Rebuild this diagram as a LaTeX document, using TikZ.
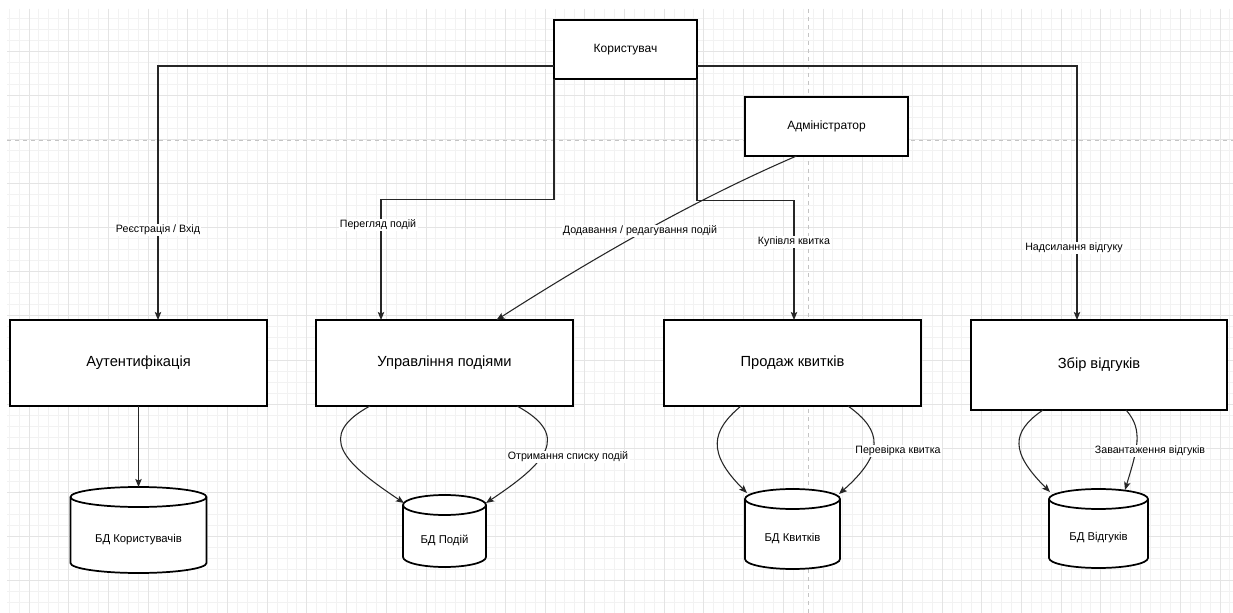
\documentclass[tikz,border=0pt]{standalone}
\usepackage{fontspec}
\setmainfont{Liberation Sans}
\usetikzlibrary{arrows.meta,calc}
\definecolor{gminor}{HTML}{F2F2F2}
\definecolor{gmajor}{HTML}{E4E4E4}
\definecolor{gpage}{HTML}{C4C4C4}
\def\dbr{7.5pt}
\newcommand\dbcyl[6]{%
  \node[dbnode, minimum width=#4*0.75pt, minimum height=#5*0.75pt] (#1) at (#2,#3) {};
  \path[dbline] ([yshift=-\dbr]#1.north west) -- ([yshift=\dbr]#1.south west)
     arc[start angle=180,end angle=360,x radius=#4*0.375pt,y radius=\dbr]
     -- ([yshift=-\dbr]#1.north east)
     arc[start angle=0,end angle=180,x radius=#4*0.375pt,y radius=\dbr] -- cycle;
  \draw[dbline, fill=none] ([yshift=-\dbr]#1.north west)
     arc[start angle=180,end angle=360,x radius=#4*0.375pt,y radius=\dbr];
  \node[dbtext] (#1-t) at ([yshift=-7pt]#1.center) {#6};
}
\tikzset{
  box/.style={draw=black, line width=1.5pt, fill=white, inner sep=0pt, outer sep=0pt,
    font=\fontsize{11}{13}\selectfont},
  smallbox/.style={box, font=\fontsize{9}{11}\selectfont},
  dbnode/.style={inner sep=0pt, outer sep=0pt},
  dbtext/.style={inner sep=0pt, font=\fontsize{8.5}{10}\selectfont},
  dbline/.style={draw=black, line width=1.3pt, fill=white},
  conn/.style={draw=black!85, line width=0.8pt, -{Stealth[length=6pt,width=4.8pt,inset=1.2pt]}},
  lbl/.style={fill=white, inner sep=1pt, font=\fontsize{8}{10}\selectfont},
  gridminor/.style={draw=gminor, line width=0.75pt},
  gridmajor/.style={draw=gmajor, line width=0.75pt},
  gridpage/.style={draw=gpage, line width=0.75pt, dash pattern=on 3pt off 3pt},
}
\begin{document}
\begin{tikzpicture}[x=0.75pt, y=-0.75pt]
\useasboundingbox (0,0) rectangle (1233,613);
\fill[white] (0,0) rectangle (1233,613);
% background grid
\begin{scope}
  \clip (7,9) rectangle (1233,613);
  \foreach \i in {0,...,124} {\draw[gridminor] ({9.15+9.925*\i},9) -- ({9.15+9.925*\i},613);}
  \foreach \i in {0,...,55} {\draw[gridminor] (7,{8+11*\i}) -- (1233,{8+11*\i});}
  \foreach \i in {0,...,30} {\draw[gridmajor] ({29+39.7*\i},9) -- ({29+39.7*\i},613);}
  \foreach \i in {0,...,14} {\draw[gridmajor] (7,{8+44*\i}) -- (1233,{8+44*\i});}
  \draw[gridpage] (7,141) -- (1233,141);
  \draw[gridpage] (808,9) -- (808,613);
\end{scope}

% helper coordinates for arrow columns
\coordinate (c1) at (158,0);
\coordinate (c2) at (381,0);
\coordinate (c3) at (794,0);
\coordinate (c4) at (1077,0);

% boxes
\node[smallbox, minimum width=143*0.75pt, minimum height=59*0.75pt] (user) at (625.5,50) {Користувач};
\node[smallbox, minimum width=163*0.75pt, minimum height=59*0.75pt] (admin) at (826.5,126.5) {Адміністратор};
\node[box, minimum width=257*0.75pt, minimum height=86*0.75pt] (auth) at (138.5,363) {Аутентифікація};
\node[box, minimum width=257*0.75pt, minimum height=86*0.75pt] (events) at (444.5,363) {Управління подіями};
\node[box, minimum width=257*0.75pt, minimum height=86*0.75pt] (tickets) at (792.5,363) {Продаж квитків};
\node[box, minimum width=256*0.75pt, minimum height=90*0.75pt] (fb) at (1099,365) {Збір відгуків};

% databases
\dbcyl{dbu}{138.5}{530}{136}{86}{БД Користувачів}
\dbcyl{dbe}{444.5}{531}{83}{72}{БД Подій}
\dbcyl{dbt}{792.5}{529}{95}{80}{БД Квитків}
\dbcyl{dbf}{1098.5}{528.5}{99}{79}{БД Відгуків}

% connectors from user / admin
\draw[conn] ([yshift=-12pt]user.west) -| (auth.north -| c1);
\draw[conn] ([yshift=-12pt]user.east) -| (fb.north -| c4);
\draw[conn] (user.south west) -- ++(0,120) -| (events.north -| c2);
\draw[conn] (user.south east) -- ++(0,121) -| (tickets.north -| c3);
\draw[conn] ([shift={(-30,0)}]admin.south) .. controls +(-100,43) and +(100,-64) .. ([shift={(52,0)}]events.north);

% connectors to databases
\draw[conn] (auth.south) -- (auth.south |- dbu.north);
\draw[conn] ([shift={(-74.5,0)}]events.south) .. controls +(-55,30) and +(-60,-40) .. ([shift={(1,8)}]dbe.north west);
\draw[conn] ([shift={(72.5,0)}]events.south) .. controls +(55,30) and +(60,-40) .. ([shift={(0,8)}]dbe.north east);
\draw[conn] ([shift={(-51.5,0)}]tickets.south) .. controls +(-30,25) and +(-40,-40) .. ([shift={(2,4)}]dbt.north west);
\draw[conn] ([shift={(55.5,0)}]tickets.south) .. controls +(35,25) and +(45,-40) .. ([shift={(-1,5)}]dbt.north east);
\draw[conn] ([shift={(-56,0)}]fb.south) .. controls +(-32,22) and +(-40,-40) .. ([shift={(1,3)}]dbf.north west);
\draw[conn] ([shift={(27,0)}]fb.south) .. controls +(18,20) and +(12,-40) .. ([shift={(-23,1)}]dbf.north east);

% labels
\node[lbl] (l1) at (158,230) {Реєстрація / Вхід};
\node[lbl] (l2) at (378,225) {Перегляд подій};
\node[lbl] (l3) at (640,231) {Додавання / редагування подій};
\node[lbl] (l4) at (794,242) {Купівля квитка};
\node[lbl] (l5) at (1074,248) {Надсилання відгуку};
\node[lbl] (l6) at (568,457) {Отримання списку подій};
\node[lbl] (l7) at (898,451) {Перевірка квитка};
\node[lbl] (l8) at (1150,451) {Завантаження відгуків};
\end{tikzpicture}
\end{document}
